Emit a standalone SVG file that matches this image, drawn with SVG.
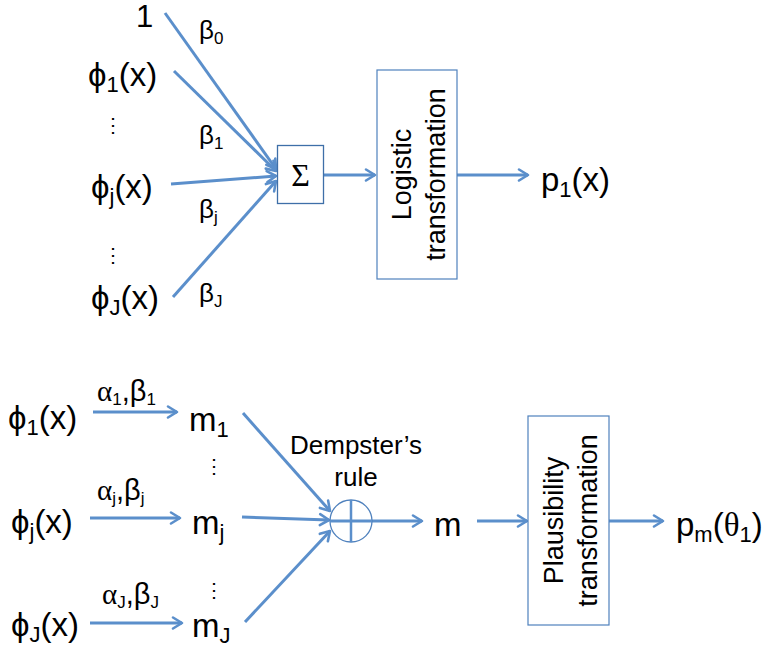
<svg xmlns="http://www.w3.org/2000/svg" width="770" height="652" viewBox="0 0 770 652">
<style>
text{font-family:"Liberation Sans","Open Sans",sans-serif;fill:#000}
.big{font-size:33px}
.sub{font-size:22px}
.lbl{font-size:26px}
.ab{font-size:29px}
.ls{font-size:17px}
.bx{font-size:27px}
.dots{font-size:20px}
.box{fill:#fff;stroke:#4F81BD;stroke-width:1.2}
.c{stroke:#5B8FCB;stroke-width:3;fill:none;marker-end:url(#ah)}
.greek{font-family:"Liberation Serif","DejaVu Serif",serif}
</style>
<defs>
<marker id="ah" markerWidth="14" markerHeight="14" refX="10" refY="6" orient="auto" markerUnits="userSpaceOnUse" viewBox="0 0 14 12" overflow="visible">
<path d="M1,0.5 L10,6 L1,11.5" fill="none" stroke="#5B8FCB" stroke-width="2.6" stroke-linecap="round" stroke-linejoin="round"/>
</marker>
</defs>
<g id="connectors">
<line class="c" x1="165" y1="13" x2="276" y2="169"/>
<line class="c" x1="174" y1="71" x2="276" y2="171"/>
<line class="c" x1="171" y1="184" x2="276" y2="176"/>
<line class="c" x1="173" y1="297" x2="276" y2="181"/>
<line class="c" x1="324" y1="175" x2="375" y2="175"/>
<line class="c" x1="457" y1="175" x2="528" y2="175"/>
<line class="c" x1="93" y1="412" x2="177" y2="412"/>
<line class="c" x1="90" y1="518" x2="180" y2="518"/>
<line class="c" x1="90" y1="623" x2="182" y2="623"/>
<line class="c" x1="243" y1="413" x2="330" y2="511"/>
<line class="c" x1="242" y1="517" x2="329" y2="520"/>
<line class="c" x1="245" y1="622" x2="330" y2="531"/>
<line class="c" x1="372" y1="521" x2="422" y2="521"/>
<line class="c" x1="477" y1="521" x2="527" y2="521"/>
<line class="c" x1="609" y1="521" x2="663" y2="521"/>
</g>
<g id="one"><text x="136" y="27" style="font-size:31px">1</text></g>
<g id="phi1"><text class="big" x="88" y="86">ϕ<tspan class="sub" dy="6">1</tspan><tspan dy="-6">(x)</tspan></text></g>
<g id="dots1"><text class="dots" x="103" y="132">⋮</text></g>
<g id="phij"><text class="big" x="91" y="198">ϕ<tspan class="sub" dy="6">j</tspan><tspan dy="-6">(x)</tspan></text></g>
<g id="dots2"><text class="dots" x="103" y="262">⋮</text></g>
<g id="phiJ"><text class="big" x="91" y="309">ϕ<tspan class="sub" dy="6">J</tspan><tspan dy="-6">(x)</tspan></text></g>
<g id="b0"><text class="lbl" x="199" y="39">β<tspan class="ls" dy="5">0</tspan></text></g>
<g id="b1"><text class="lbl" x="199" y="144">β<tspan class="ls" dy="5">1</tspan></text></g>
<g id="bj"><text class="lbl" x="199" y="218">β<tspan class="ls" dy="5">j</tspan></text></g>
<g id="bJ"><text class="lbl" x="199" y="302">β<tspan class="ls" dy="5">J</tspan></text></g>
<g id="sigma"><rect x="277.5" y="145.5" width="46" height="58" fill="#fff" stroke="#3E6FA8" stroke-width="1.3"/><text x="300.5" y="186" text-anchor="middle" style="font-size:32px;font-family:'Liberation Serif','DejaVu Serif',serif">Σ</text></g>
<g id="logistic"><rect class="box" x="377" y="70" width="80" height="209"/>
<text class="bx" text-anchor="middle" transform="translate(411,174.5) rotate(-90)">Logistic</text>
<text class="bx" text-anchor="middle" transform="translate(445,174.5) rotate(-90)">transformation</text></g>
<g id="p1"><text class="big" x="541" y="191">p<tspan class="sub" dy="6">1</tspan><tspan dy="-6">(x)</tspan></text></g>

<g id="bphi1"><text class="big" x="8" y="429">ϕ<tspan class="sub" dy="6">1</tspan><tspan dy="-6">(x)</tspan></text></g>
<g id="ab1"><text class="ab" x="97" y="401"><tspan class="greek">α</tspan><tspan class="ls" dy="4">1</tspan><tspan dy="-4">,β</tspan><tspan class="ls" dy="4">1</tspan></text></g>
<g id="m1"><text class="big" x="189" y="431">m<tspan class="sub" dy="6">1</tspan></text></g>
<g id="bdots1"><text class="dots" x="204" y="473">⋮</text></g>
<g id="bphij"><text class="big" x="11" y="533">ϕ<tspan class="sub" dy="6">j</tspan><tspan dy="-6">(x)</tspan></text></g>
<g id="abj"><text class="ab" x="97" y="500"><tspan class="greek">α</tspan><tspan class="ls" dy="4">j</tspan><tspan dy="-4">,β</tspan><tspan class="ls" dy="4">j</tspan></text></g>
<g id="mj"><text class="big" x="192" y="534">m<tspan class="sub" dy="6">j</tspan></text></g>
<g id="bdots2"><text class="dots" x="204" y="597">⋮</text></g>
<g id="bphiJ"><text class="big" x="11" y="636">ϕ<tspan class="sub" dy="6">J</tspan><tspan dy="-6">(x)</tspan></text></g>
<g id="abJ"><text class="ab" x="102" y="604"><tspan class="greek">α</tspan><tspan class="ls" dy="4">J</tspan><tspan dy="-4">,β</tspan><tspan class="ls" dy="4">J</tspan></text></g>
<g id="mJ"><text class="big" x="192" y="637">m<tspan class="sub" dy="6">J</tspan></text></g>
<g id="dempster"><circle cx="351" cy="521" r="21" fill="none" stroke="#4F81BD" stroke-width="1.3"/>
<line x1="351" y1="500" x2="351" y2="542" stroke="#5B8FCB" stroke-width="2.5"/>
<line x1="330" y1="521" x2="372" y2="521" stroke="#5B8FCB" stroke-width="3"/>
<text class="lbl" x="356" y="454" text-anchor="middle">Dempster’s</text>
<text class="lbl" x="356" y="486" text-anchor="middle">rule</text></g>
<g id="m"><text class="big" x="434" y="536">m</text></g>
<g id="plaus"><rect class="box" x="528" y="416" width="81" height="209"/>
<text class="bx" text-anchor="middle" transform="translate(563,520.5) rotate(-90)">Plausibility</text>
<text class="bx" text-anchor="middle" transform="translate(597,520.5) rotate(-90)">transformation</text></g>
<g id="pm"><text class="big" x="676" y="536">p<tspan class="sub" dy="6">m</tspan><tspan dy="-6">(</tspan><tspan class="greek">θ</tspan><tspan class="sub" dy="6">1</tspan><tspan dy="-6">)</tspan></text></g>
</svg>
